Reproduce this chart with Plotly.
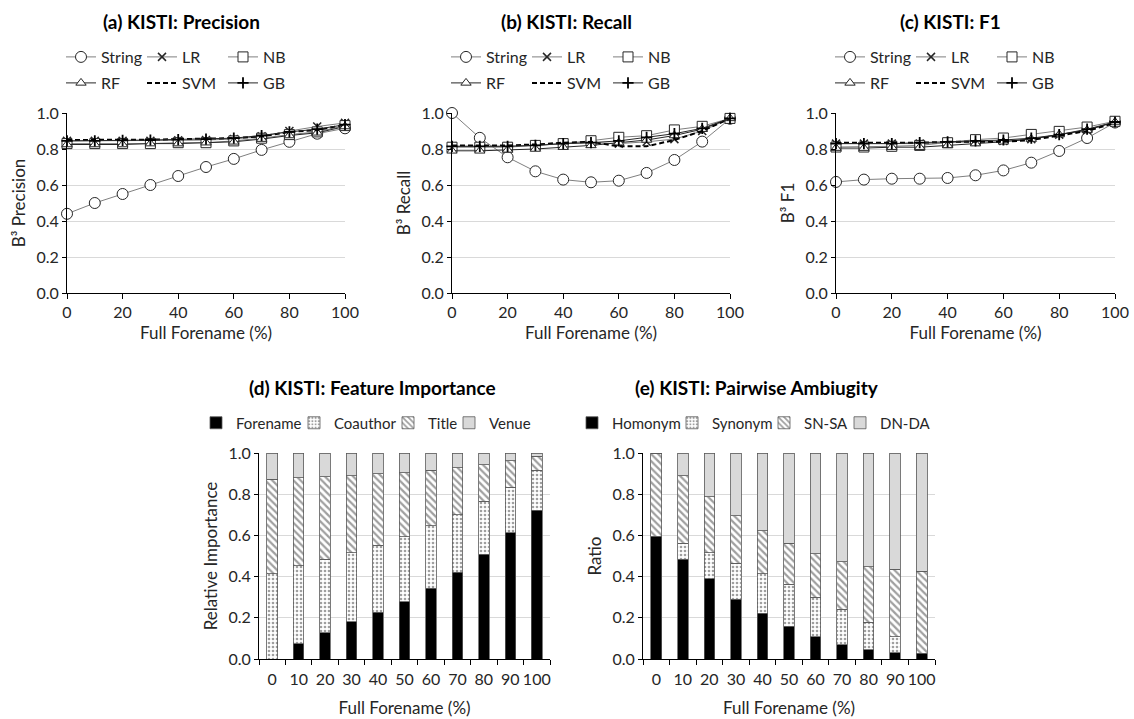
import plotly.graph_objects as go

# ---------------- data ----------------
full_forename = [0, 10, 20, 30, 40, 50, 60, 70, 80, 90, 100]
categories = ["0", "10", "20", "30", "40", "50", "60", "70", "80", "90", "100"]
methods = ["String", "LR", "NB", "RF", "SVM", "GB"]

prec_string = [0.44, 0.50, 0.55, 0.60, 0.65, 0.70, 0.745, 0.795, 0.84, 0.885, 0.915]
prec_lr = [0.845, 0.845, 0.845, 0.845, 0.848, 0.85, 0.855, 0.87, 0.90, 0.925, 0.945]
prec_nb = [0.83, 0.83, 0.83, 0.83, 0.835, 0.835, 0.845, 0.86, 0.88, 0.895, 0.93]
prec_rf = [0.825, 0.825, 0.825, 0.83, 0.83, 0.835, 0.84, 0.855, 0.875, 0.89, 0.925]
prec_svm = [0.85, 0.85, 0.85, 0.852, 0.855, 0.857, 0.86, 0.87, 0.895, 0.905, 0.935]
prec_gb = [0.845, 0.845, 0.848, 0.85, 0.852, 0.855, 0.86, 0.875, 0.895, 0.91, 0.935]

rec_string = [1.0, 0.862, 0.754, 0.676, 0.63, 0.615, 0.624, 0.667, 0.739, 0.841, 0.968]
rec_lr = [0.815, 0.815, 0.815, 0.82, 0.83, 0.835, 0.83, 0.84, 0.855, 0.90, 0.97]
rec_nb = [0.81, 0.81, 0.81, 0.82, 0.83, 0.846, 0.865, 0.874, 0.906, 0.926, 0.97]
rec_rf = [0.79, 0.79, 0.795, 0.80, 0.81, 0.82, 0.835, 0.85, 0.875, 0.91, 0.97]
rec_svm = [0.82, 0.82, 0.82, 0.825, 0.835, 0.84, 0.815, 0.815, 0.85, 0.90, 0.97]
rec_gb = [0.815, 0.815, 0.815, 0.82, 0.83, 0.835, 0.845, 0.865, 0.885, 0.915, 0.97]

f1_string = [0.617, 0.63, 0.635, 0.635, 0.639, 0.654, 0.681, 0.724, 0.789, 0.861, 0.947]
f1_lr = [0.83, 0.83, 0.83, 0.83, 0.835, 0.84, 0.845, 0.855, 0.88, 0.905, 0.95]
f1_nb = [0.811, 0.811, 0.815, 0.82, 0.835, 0.852, 0.861, 0.881, 0.898, 0.922, 0.954]
f1_rf = [0.805, 0.805, 0.81, 0.81, 0.82, 0.83, 0.84, 0.855, 0.88, 0.905, 0.95]
f1_svm = [0.835, 0.835, 0.835, 0.835, 0.84, 0.84, 0.84, 0.85, 0.875, 0.90, 0.945]
f1_gb = [0.83, 0.83, 0.83, 0.835, 0.84, 0.845, 0.85, 0.86, 0.88, 0.91, 0.95]

imp_forename = [0.0, 0.073, 0.128, 0.181, 0.228, 0.278, 0.343, 0.42, 0.509, 0.612, 0.722]
imp_coauthor = [0.415, 0.379, 0.357, 0.334, 0.325, 0.315, 0.303, 0.281, 0.258, 0.222, 0.194]
imp_title = [0.457, 0.428, 0.40, 0.375, 0.347, 0.312, 0.27, 0.227, 0.177, 0.129, 0.068]
imp_venue = [0.128, 0.12, 0.115, 0.11, 0.10, 0.095, 0.084, 0.072, 0.056, 0.037, 0.016]

amb_homonym = [0.596, 0.485, 0.39, 0.291, 0.221, 0.16, 0.108, 0.068, 0.044, 0.031, 0.027]
amb_synonym = [0.0, 0.076, 0.125, 0.173, 0.194, 0.202, 0.191, 0.173, 0.134, 0.077, 0.0]
amb_snsa = [0.404, 0.329, 0.272, 0.232, 0.207, 0.199, 0.213, 0.231, 0.27, 0.327, 0.40]
amb_dnda = [0.0, 0.11, 0.213, 0.304, 0.378, 0.439, 0.488, 0.528, 0.552, 0.565, 0.573]

# ---------------- styling ----------------
W, H = 1134, 719
FONT = "Lato, Carlito, Calibri, 'Open Sans', sans-serif"
TICK = 16
AXT = 17

def px_x(p):
    return p / W

def px_y(p):
    return 1 - p / H

styles = {
    "String": dict(line=dict(color="#7f7f7f", width=1),
                   marker=dict(symbol="circle", size=11, color="white",
                               line=dict(color="#262626", width=1))),
    "LR": dict(line=dict(color="#7f7f7f", width=1),
               marker=dict(symbol="x-thin", size=8, color="#262626",
                           line=dict(color="#262626", width=1.5))),
    "NB": dict(line=dict(color="#7f7f7f", width=1),
               marker=dict(symbol="square", size=10, color="white",
                           line=dict(color="#262626", width=1))),
    "RF": dict(line=dict(color="#262626", width=1),
               marker=dict(symbol="triangle-up", size=9, color="white",
                           line=dict(color="#262626", width=1))),
    "SVM": dict(line=dict(color="black", width=2, dash="5px,3px"),
                marker=dict(size=1, opacity=0)),
    "GB": dict(line=dict(color="#262626", width=1),
               marker=dict(symbol="cross-thin", size=8, color="black",
                           line=dict(color="black", width=1.8))),
}

panels = [
    ("(a) KISTI: Precision", "B³ Precision",
     [prec_string, prec_lr, prec_nb, prec_rf, prec_svm, prec_gb], 67, 345),
    ("(b) KISTI: Recall", "B³ Recall",
     [rec_string, rec_lr, rec_nb, rec_rf, rec_svm, rec_gb], 452, 730),
    ("(c) KISTI: F1", "B³ F1",
     [f1_string, f1_lr, f1_nb, f1_rf, f1_svm, f1_gb], 836, 1115),
]

fig = go.Figure()
layout = dict(width=W, height=H, margin=dict(l=0, r=0, t=0, b=0, autoexpand=False),
              paper_bgcolor="white", plot_bgcolor="white",
              font=dict(family=FONT, size=TICK, color="#262626"),
              barmode="stack", bargap=0.6, annotations=[])

top_y0, top_y1 = 113, 293
legend_idx = 1

def legend_name(i):
    return "legend" if i == 1 else f"legend{i}"

def legend_box(x, y, size=16):
    return dict(x=px_x(x), y=px_y(y), xanchor="left", yanchor="middle",
                orientation="h", font=dict(size=size), itemwidth=30,
                bgcolor="rgba(0,0,0,0)", itemclick=False, itemdoubleclick=False)

for pi, (title, ytitle, series, x0, x1) in enumerate(panels):
    ax = pi + 1
    xa = "x" if ax == 1 else f"x{ax}"
    ya = "y" if ax == 1 else f"y{ax}"
    lg_a = legend_name(legend_idx)
    lg_b = legend_name(legend_idx + 1)
    for mi, (name, vals) in enumerate(zip(methods, series)):
        st = styles[name]
        fig.add_trace(go.Scatter(
            x=full_forename, y=vals, name=name,
            mode="lines" if name == "SVM" else "lines+markers",
            line=st["line"], marker=st["marker"],
            xaxis=xa, yaxis=ya, cliponaxis=False,
            legend=lg_a if mi < 3 else lg_b, showlegend=True))
    key = "" if ax == 1 else str(ax)
    layout["xaxis" + key] = dict(
        domain=[px_x(x0), px_x(x1)], anchor=ya, range=[0, 100], dtick=20,
        ticks="outside", ticklen=5, tickcolor="black", showline=True,
        linecolor="black", linewidth=1, showgrid=False, zeroline=False,
        automargin=False,
        title=dict(text="Full Forename (%)", font=dict(size=AXT), standoff=6),
        tickfont=dict(size=TICK))
    layout["yaxis" + key] = dict(
        domain=[px_y(top_y1), px_y(top_y0)], anchor=xa, range=[0, 1],
        dtick=0.2, tickformat=".1f", showline=True, linecolor="black",
        linewidth=1, showgrid=True, gridcolor="#d9d9d9", zeroline=False,
        ticks="outside", ticklen=4, tickcolor="black", automargin=False,
        title=dict(text=ytitle, font=dict(size=AXT), standoff=6),
        tickfont=dict(size=TICK))
    leg_x = x0 - 6
    la = legend_box(leg_x, 57)
    la["entrywidth"] = 36
    lb = legend_box(leg_x, 83)
    lb["entrywidth"] = 36
    layout[lg_a] = la
    layout[lg_b] = lb
    legend_idx += 2
    layout["annotations"].append(dict(
        text=f"<b>{title}</b>", x=px_x((x0 + x1) / 2 - 25), y=px_y(21),
        xref="paper", yref="paper", showarrow=False,
        font=dict(size=19, color="black"), xanchor="center", yanchor="middle"))

# ---------------- bar panels ----------------
bar_panels = [
    ("(d) KISTI: Feature Importance", "Relative Importance",
     [("Forename", imp_forename), ("Coauthor", imp_coauthor),
      ("Title", imp_title), ("Venue", imp_venue)], 259, 550,
     [236, 334, 428, 489], 372),
    ("(e) KISTI: Pairwise Ambiugity", "Ratio",
     [("Homonym", amb_homonym), ("Synonym", amb_synonym),
      ("SN-SA", amb_snsa), ("DN-DA", amb_dnda)], 643, 935,
     [612, 712, 804, 880], 757),
]
bar_styles = [
    dict(color="black", pattern=dict(shape="")),
    dict(color="white", pattern=dict(shape=".", fgcolor="#404040", size=4, solidity=0.35)),
    dict(color="white", pattern=dict(shape="\\", fgcolor="#404040", size=5, solidity=0.45)),
    dict(color="#d9d9d9", pattern=dict(shape="")),
]
bot_y0, bot_y1 = 453, 659

for bi, (title, ytitle, series, x0, x1, text_starts, tcx) in enumerate(bar_panels):
    ax = 4 + bi
    xa, ya = f"x{ax}", f"y{ax}"
    for si, (name, vals) in enumerate(series):
        st = bar_styles[si]
        lg = legend_name(legend_idx)
        fig.add_trace(go.Bar(
            x=categories, y=vals, name=name, xaxis=xa, yaxis=ya, legend=lg,
            marker=dict(color=st["color"], pattern=st["pattern"],
                        line=dict(color="#595959", width=0.8))))
        layout[lg] = legend_box(text_starts[si] - 40, 423, size=15)
        legend_idx += 1
    layout[f"xaxis{ax}"] = dict(
        domain=[px_x(x0), px_x(x1)], anchor=ya, type="category",
        ticks="outside", tickson="boundaries", ticklen=5, tickcolor="black",
        showline=True, linecolor="black", linewidth=1, showgrid=False,
        tickangle=0, automargin=False, ticklabelstandoff=6,
        title=dict(text="Full Forename (%)", font=dict(size=AXT), standoff=14),
        tickfont=dict(size=TICK))
    layout[f"yaxis{ax}"] = dict(
        domain=[px_y(bot_y1), px_y(bot_y0)], anchor=xa, range=[0, 1],
        dtick=0.2, tickformat=".1f", showline=True, linecolor="black",
        linewidth=1, showgrid=True, gridcolor="#d9d9d9", zeroline=False,
        ticks="outside", ticklen=4, tickcolor="black", automargin=False,
        title=dict(text=ytitle, font=dict(size=AXT), standoff=6),
        tickfont=dict(size=TICK))
    layout["annotations"].append(dict(
        text=f"<b>{title}</b>", x=px_x(tcx), y=px_y(387),
        xref="paper", yref="paper", showarrow=False,
        font=dict(size=19, color="black"), xanchor="center", yanchor="middle"))

fig.update_layout(**layout)
fig.write_html("out.html")
